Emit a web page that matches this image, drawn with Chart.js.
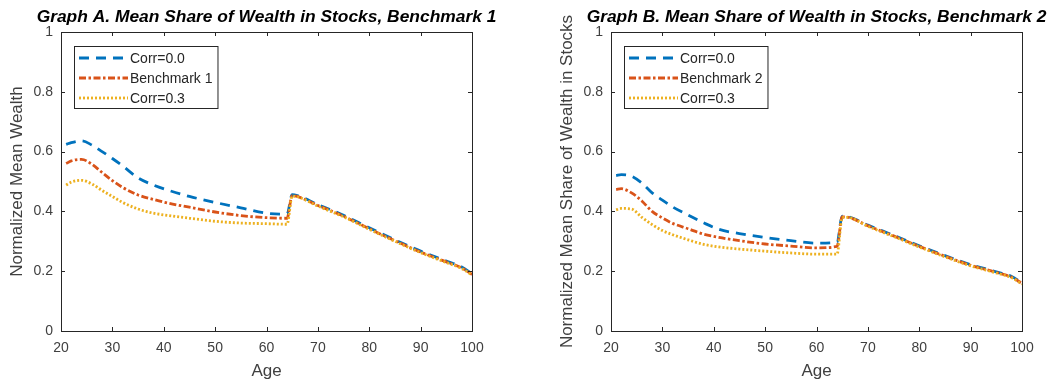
<!DOCTYPE html>
<html>
<head>
<meta charset="utf-8">
<script src="https://cdn.jsdelivr.net/npm/chart.js@4"></script>
<style>
  html, body { margin: 0; padding: 0; background: #fff; }
  .wrap { position: absolute; top: 0; width: 530px; height: 386px; }
  #boxA { left: 0; }
  #boxB { left: 530px; }
</style>
</head>
<body>
<div class="wrap" id="boxA"><canvas id="chartA" width="530" height="386"></canvas></div>
<div class="wrap" id="boxB"><canvas id="chartB" width="530" height="386"></canvas></div>
<script>
// ages
const ages = [21, 22, 24, 26, 28, 30, 32, 35, 38, 41, 45, 50, 55, 60, 64, 65, 66, 70, 75, 80, 85, 90, 95, 98, 100];
const xTicks = [20, 30, 40, 50, 60, 70, 80, 90, 100];
const yTicks = [0, 0.2, 0.4, 0.6, 0.8, 1];

// Graph A
const corr0A = [0.624, 0.630, 0.636, 0.622, 0.600, 0.577, 0.552, 0.512, 0.488, 0.470, 0.450, 0.430, 0.412, 0.394, 0.391,
                0.456, 0.453, 0.423, 0.387, 0.345, 0.305, 0.267, 0.234, 0.214, 0.192];
const bench1 = [0.560, 0.569, 0.574, 0.558, 0.530, 0.503, 0.480, 0.455, 0.440, 0.427, 0.414, 0.398, 0.386, 0.379, 0.377,
                0.453, 0.450, 0.420, 0.384, 0.342, 0.302, 0.264, 0.231, 0.211, 0.189];
const corr3A = [0.488, 0.498, 0.504, 0.492, 0.470, 0.450, 0.430, 0.408, 0.394, 0.386, 0.377, 0.367, 0.361, 0.359, 0.357,
                0.451, 0.449, 0.418, 0.382, 0.340, 0.300, 0.262, 0.229, 0.209, 0.187];

// Graph B
const corr0B = [0.520, 0.523, 0.518, 0.495, 0.462, 0.438, 0.415, 0.388, 0.362, 0.340, 0.326, 0.313, 0.302, 0.294, 0.297,
                0.384, 0.383, 0.354, 0.320, 0.285, 0.252, 0.222, 0.198, 0.182, 0.161];
const bench2 = [0.473, 0.476, 0.462, 0.435, 0.400, 0.378, 0.360, 0.342, 0.324, 0.313, 0.302, 0.291, 0.284, 0.278, 0.283,
                0.382, 0.381, 0.352, 0.318, 0.283, 0.250, 0.220, 0.196, 0.180, 0.159];
const corr3B = [0.405, 0.410, 0.408, 0.380, 0.356, 0.336, 0.322, 0.305, 0.290, 0.281, 0.274, 0.267, 0.261, 0.257, 0.257,
                0.379, 0.380, 0.350, 0.316, 0.281, 0.248, 0.218, 0.194, 0.178, 0.157];

const FONT = "'Liberation Sans', Arial, sans-serif";
const AXIS_COL = '#262626';
const TEXT_COL = '#404040';

const pts = (vals) => ages.map((a, i) => ({ x: a, y: vals[i] }));

// matlab style box with inward ticks
const boxPlugin = {
  id: 'matlabBox',
  afterDatasetsDraw(chart) {
    const { ctx, chartArea: a, scales } = chart;
    ctx.save();
    ctx.strokeStyle = AXIS_COL;
    ctx.lineWidth = 1;
    ctx.strokeRect(a.left + 0.5, a.top + 0.5, a.right - a.left, a.bottom - a.top);
    ctx.beginPath();
    xTicks.forEach(v => {
      const px = Math.round(scales.x.getPixelForValue(v)) + 0.5;
      ctx.moveTo(px, a.bottom); ctx.lineTo(px, a.bottom - 4);
      ctx.moveTo(px, a.top); ctx.lineTo(px, a.top + 4);
    });
    yTicks.forEach(v => {
      const py = Math.round(scales.y.getPixelForValue(v)) + 0.5;
      ctx.moveTo(a.left, py); ctx.lineTo(a.left + 4, py);
      ctx.moveTo(a.right, py); ctx.lineTo(a.right - 4, py);
    });
    ctx.stroke();
    ctx.restore();
  }
};

// title centred over the axes box (not the canvas), like matlab
const axesTitle = {
  id: 'axesTitle',
  afterDraw(chart, args, opts) {
    const { ctx, chartArea: a } = chart;
    ctx.save();
    ctx.font = 'italic bold 17.4px ' + FONT;
    ctx.fillStyle = '#000';
    ctx.textAlign = 'center';
    ctx.textBaseline = 'middle';
    ctx.fillText(opts.text, (a.left + a.right) / 2, 17);
    ctx.restore();
  }
};

// legend drawn inside the axes, top left
const insideLegend = {
  id: 'insideLegend',
  afterDraw(chart) {
    const { ctx, chartArea: a } = chart;
    const sets = chart.data.datasets;
    ctx.save();
    ctx.font = '14px ' + FONT;
    const tw = Math.max(...sets.map(d => ctx.measureText(d.label).width));
    const x0 = a.left + 13, y0 = a.top + 14;
    const w = 56 + tw + 5, h = 62;
    ctx.fillStyle = '#fff';
    ctx.fillRect(x0, y0, w, h);
    ctx.strokeStyle = AXIS_COL;
    ctx.lineWidth = 1;
    ctx.strokeRect(x0 + 0.5, y0 + 0.5, w, h);
    sets.forEach((d, i) => {
      const y = y0 + 12 + i * 20;
      ctx.strokeStyle = d.borderColor;
      ctx.lineWidth = d.borderWidth;
      ctx.setLineDash(d.borderDash);
      ctx.beginPath();
      ctx.moveTo(x0 + 5, y); ctx.lineTo(x0 + 54, y);
      ctx.stroke();
      ctx.setLineDash([]);
      ctx.fillStyle = AXIS_COL;
      ctx.textBaseline = 'middle';
      ctx.textAlign = 'left';
      ctx.fillText(d.label, x0 + 56, y + 1);
    });
    ctx.restore();
  }
};

function makeChart(id, title, yTitle, series, benchLabel, yAxisWidth, yTitlePad, rightPad) {
  new Chart(document.getElementById(id).getContext('2d'), {
    type: 'line',
    data: {
      datasets: [
        { label: 'Corr=0.0', data: pts(series[0]), borderColor: '#0072BD', borderWidth: 2.8, borderDash: [10, 7], order: 3 },
        { label: benchLabel, data: pts(series[1]), borderColor: '#D95319', borderWidth: 2.8, borderDash: [7, 2.5, 2.5, 2.5], order: 2 },
        { label: 'Corr=0.3', data: pts(series[2]), borderColor: '#EDB120', borderWidth: 2.8, borderDash: [2, 2], order: 1 }
      ].map(d => Object.assign(d, { pointRadius: 0, fill: false, cubicInterpolationMode: 'monotone' }))
    },
    options: {
      responsive: false,
      animation: false,
      layout: { padding: { left: 0, right: rightPad, top: 32, bottom: 0 } },
      plugins: {
        legend: { display: false },
        tooltip: { enabled: false },
        title: { display: false },
        axesTitle: { text: title }
      },
      scales: {
        x: {
          type: 'linear',
          min: 20, max: 100,
          afterBuildTicks: s => { s.ticks = xTicks.map(v => ({ value: v })); },
          afterFit: s => { s.height = 55; },
          grid: { display: false, drawTicks: false },
          border: { display: false },
          ticks: { color: TEXT_COL, font: { family: FONT, size: 14 }, padding: 9, maxRotation: 0 },
          title: { display: true, text: 'Age', color: TEXT_COL, font: { family: FONT, size: 17 }, padding: { top: 0, bottom: 4 } }
        },
        y: {
          min: 0, max: 1,
          afterBuildTicks: s => { s.ticks = yTicks.map(v => ({ value: v })); },
          afterFit: s => { s.width = yAxisWidth; },
          grid: { display: false, drawTicks: false },
          border: { display: false },
          ticks: { color: TEXT_COL, font: { family: FONT, size: 14 }, padding: 8, callback: v => String(v) },
          title: { display: true, text: yTitle, color: TEXT_COL, font: { family: FONT, size: 17 }, padding: { top: yTitlePad, bottom: 0 } }
        }
      }
    },
    plugins: [boxPlugin, axesTitle, insideLegend]
  });
}

makeChart('chartA', 'Graph A. Mean Share of Wealth in Stocks, Benchmark 1', 'Normalized Mean Wealth',
  [corr0A, bench1, corr3A], 'Benchmark 1', 61, 7, 58);
makeChart('chartB', 'Graph B. Mean Share of Wealth in Stocks, Benchmark 2', 'Normalized Mean Share of Wealth in Stocks',
  [corr0B, bench2, corr3B], 'Benchmark 2', 81, 27, 38);
</script>
</body>
</html>
